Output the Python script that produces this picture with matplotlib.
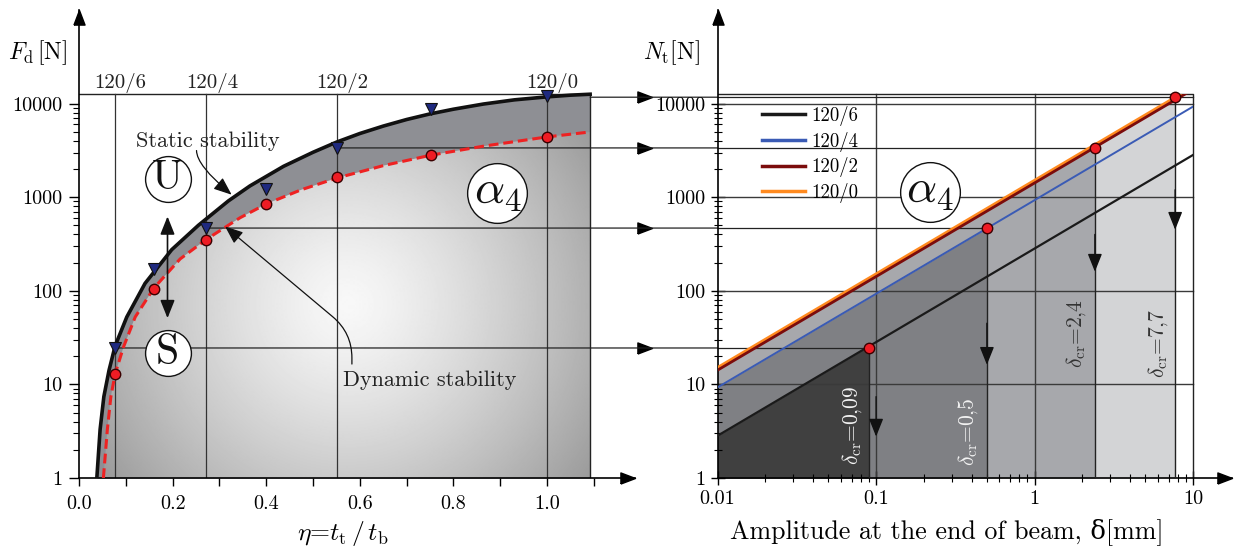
import numpy as np
import matplotlib
matplotlib.use('Agg')
import matplotlib.pyplot as plt
from matplotlib.patches import Rectangle, ConnectionPatch
from matplotlib.ticker import NullFormatter
from matplotlib.transforms import blended_transform_factory

plt.rcParams['font.family'] = ['cmr10', 'DejaVu Serif']
plt.rcParams['mathtext.fontset'] = 'cm'
plt.rcParams['axes.unicode_minus'] = False

# configurations (rod length / tip thickness)
config_labels = ['120/6', '120/4', '120/2', '120/0']
config_eta = [0.077, 0.272, 0.551, 1.0]
config_F = [24.5, 468, 3360, 11700]      # static stability force carried to right panel

# left panel: measured points
point_eta = [0.077, 0.16, 0.272, 0.40, 0.551, 0.752, 1.0]
static_F = [24.4, 172, 468, 1235, 3360, 8850, 11970]
dynamic_F = [12.9, 104, 351, 846, 1628, 2826, 4400]

# left panel: boundary curves
static_curve_eta = [0.038, 0.045, 0.053, 0.064, 0.077, 0.102, 0.141, 0.198, 0.255, 0.319,
                    0.365, 0.437, 0.50, 0.551, 0.60, 0.65, 0.70, 0.75, 0.80, 0.864,
                    0.93, 1.0, 1.05, 1.092]
static_curve_F = [1, 3.3, 7.4, 14.1, 25.7, 52.5, 120, 275, 501, 912,
                  1318, 2138, 3020, 3890, 4790, 5750, 6760, 7760, 8710, 9890,
                  10960, 11800, 12300, 12590]
dynamic_curve_eta = [0.052, 0.0605, 0.068, 0.077, 0.095, 0.12, 0.16, 0.216, 0.273,
                     0.344, 0.401, 0.475, 0.551, 0.65, 0.75, 0.864, 1.0, 1.092]
dynamic_curve_F = [1, 3.3, 7.4, 12.9, 25.1, 52.5, 107, 219, 357,
                   603, 851, 1202, 1603, 2173, 2799, 3508, 4406, 4977]

# right panel: force vs amplitude lines (values at delta = 0.01 and 10 mm)
delta_ends = [0.01, 10]
N_at_ends = [[2.83, 2830], [9.3, 9300], [14.2, 14200], [15.0, 15000]]
line_colors = ['#1a1a1a', '#3a5bb5', '#7b0c0c', '#ff8a1f']
line_widths = [1.6, 1.4, 2.0, 2.6]
delta_cr = [0.09, 0.5, 2.4, 7.7]
delta_cr_text = ['0,09', '0,5', '2,4', '7,7']
region_colors = ['#404040', '#7f8084', '#a7a8ac', '#d3d4d6']

F_TOP = 12800
ETA_END = 1.092
HEAD = [(-1, -0.38), (0, 0), (-1, 0.38), (-1, -0.38)]   # arrow head, tip at origin
HEAD_UP = [(y, x) for x, y in HEAD]

fig = plt.figure(figsize=(12.37, 5.48), dpi=100)
ax1 = fig.add_axes([0.0639, 0.1277, 0.4495, 0.8541])
ax2 = fig.add_axes([0.5801, 0.1277, 0.4159, 0.8541])

for ax in (ax1, ax2):
    ax.set_yscale('log')
    ax.set_ylim(1, 1e5)
    ax.spines[['top', 'right']].set_visible(False)
    ax.spines[['left', 'bottom']].set_linewidth(1.2)
    ax.plot(1, 0, marker=HEAD, ms=21, color='k', transform=ax.transAxes, clip_on=False)
    ax.plot(0, 1, marker=HEAD_UP, ms=21, color='k', transform=ax.transAxes, clip_on=False)

# ---------------- left panel ----------------
ax1.set_xlim(0, 1.188)
ax1.set_autoscale_on(False)

ax1.fill_between(static_curve_eta, 1, static_curve_F, color='#8e8f94', lw=0, zorder=1)
poly = ax1.fill_between(dynamic_curve_eta, 1, dynamic_curve_F, facecolor='none', lw=0)

W, H = 556, 468
uu, vv = np.meshgrid(np.arange(W) + 0.5, np.arange(H) + 0.5)
dist = np.hypot(uu - 268, vv - 173)
shade = np.clip(248 - 88 * (dist / 285) ** 1.3, 110, 250) / 255
im = ax1.imshow(shade, extent=[0, 1, 0, 1], transform=ax1.transAxes, origin='lower',
                cmap='gray', vmin=0, vmax=1, aspect='auto', interpolation='bilinear', zorder=1.2)
im.set_clip_path(poly.get_paths()[0], ax1.transData)

# frame and configuration lines
ax1.plot([0, ETA_END, ETA_END], [F_TOP, F_TOP, 1], color='#222222', lw=1, zorder=2)
for e, lab in zip(config_eta, config_labels):
    ax1.plot([e, e], [1, F_TOP], color='#333333', lw=0.9, zorder=2)
    ax1.annotate(lab, (e, 14800), xytext=(4, 0), textcoords='offset points',
                 ha='center', va='baseline', fontsize=15, color='#222222')

ax1.plot(static_curve_eta, static_curve_F, color='#111111', lw=2.6, zorder=3)
ax1.plot(dynamic_curve_eta, dynamic_curve_F, color='#ee2222', lw=2.2,
         dashes=(3.2, 1.6), zorder=3)
ax1.plot(point_eta, static_F, 'v', ms=8.5, mfc='#1f2a80', mec='#111111', mew=0.8, zorder=5)
ax1.plot(point_eta, dynamic_F, 'o', ms=7.5, mfc='#ee1c24', mec='#3a0000', mew=1, zorder=5)

# connecting lines to the right panel
starts = [config_eta[0], config_eta[1], config_eta[2], ETA_END]
ends = [delta_cr[0], delta_cr[1], delta_cr[2], 10]
for s, e, F in zip(starts, ends, config_F):
    con = ConnectionPatch(xyA=(s, F), coordsA=ax1.transData, xyB=(e, F), coordsB=ax2.transData,
                          color='#222222', lw=0.9, zorder=2.5)
    ax1.add_artist(con)
    con.set_clip_on(False)
    ax2.plot([0.01, e], [F, F], color='#222222', lw=0.9, zorder=2.5)
trans = blended_transform_factory(fig.transFigure, ax1.transData)
ax1.plot([652 / 1237] * 4, config_F, ls='none', marker=HEAD, ms=21, color='k',
         transform=trans, clip_on=False)

# circles with labels
for (x, y), txt, size, fs in [((0.189, 1578), 'U', 33, 30), ((0.189, 21.6), 'S', 33, 30),
                              ((0.894, 1109), r'$\alpha_4$', 43, 34)]:
    ax1.plot(x, y, 'o', ms=size, mfc='white', mec='#111111', mew=1, zorder=6)
    ax1.text(x, y, txt, ha='center', va='center', fontsize=fs, zorder=7, color='#111111')

ax1.annotate('', xy=(0.189, 51), xytext=(0.189, 623),
             arrowprops=dict(arrowstyle='<|-|>,head_length=0.55,head_width=0.22',
                             mutation_scale=20, color='#111111', lw=1.2, shrinkA=0, shrinkB=0),
             zorder=6)
ax1.text(0.122, 3925, 'Static stability', fontsize=16, ha='left', va='center', color='#222222')
ax1.annotate('', xy=(0.326, 1063), xytext=(0.251, 3150),
             arrowprops=dict(arrowstyle='-|>,head_length=0.55,head_width=0.22', mutation_scale=20,
                             color='#111111', lw=0.9, shrinkA=0, shrinkB=0,
                             connectionstyle='angle3,angleA=-90,angleB=-40'), zorder=6)
ax1.text(0.565, 11.2, 'Dynamic stability', fontsize=16, ha='left', va='center', color='#222222')
ax1.annotate('', xy=(0.312, 487), xytext=(0.583, 16.5),
             arrowprops=dict(arrowstyle='-|>,head_length=0.55,head_width=0.22', mutation_scale=20,
                             color='#111111', lw=0.9, shrinkA=0, shrinkB=0,
                             connectionstyle='angle,angleA=90,angleB=140,rad=25'), zorder=6)

ax1.set_xticks([0, 0.2, 0.4, 0.6, 0.8, 1.0], labels=['0.0', '0.2', '0.4', '0.6', '0.8', '1.0'])
ax1.set_xticks([0.1, 0.3, 0.5, 0.7, 0.9, 1.1], minor=True)
ax1.set_yticks([1, 10, 100, 1000, 10000], labels=['1', '10', '100', '1000', '10000'])
ax1.set_yticks([k * 10 ** p for p in range(4) for k in range(2, 10)], minor=True)
ax1.yaxis.set_minor_formatter(NullFormatter())
ax1.tick_params(axis='x', which='both', direction='out', length=6, width=1, labelsize=14.5, pad=6)
ax1.tick_params(axis='y', which='major', direction='out', length=7, width=1, labelsize=14.5, pad=5)
ax1.tick_params(axis='y', which='minor', direction='out', length=4, width=0.8)

# ---------------- right panel ----------------
ax2.set_xscale('log')
ax2.set_xlim(0.01, 17.6)
ax2.set_autoscale_on(False)

log_d = np.log10(delta_ends)
order = [3, 2, 1, 0]
for i in order:
    x = np.array([0.01, delta_cr[i]])
    y = 10 ** np.interp(np.log10(x), log_d, np.log10(N_at_ends[i]))
    ax2.fill_between(x, 1, y, color=region_colors[i], lw=0, zorder=1)

for N in [10, 100, 1000, 10000]:
    ax2.plot([0.01, 10], [N, N], color='#3a3a3a', lw=1, zorder=2)
for d in [0.1, 1]:
    ax2.plot([d, d], [1, F_TOP], color='#3a3a3a', lw=1, zorder=2)
ax2.plot([0.01, 10, 10], [F_TOP, F_TOP, 1], color='#222222', lw=1, zorder=2)

clip = Rectangle((0.01, 1), 10 - 0.01, F_TOP - 1, transform=ax2.transData, fill=False)
for i in order:
    ln, = ax2.plot(delta_ends, N_at_ends[i], color=line_colors[i], lw=line_widths[i],
                   label=config_labels[i], zorder=3)
    ln.set_clip_path(clip)

for i in range(4):
    ax2.plot([delta_cr[i], delta_cr[i]], [1, config_F[i]], color='#222222', lw=1, zorder=2.6)
ax2.plot(delta_cr, config_F, 'o', ms=7.5, mfc='#ee1c24', mec='#3a0000', mew=1, zorder=5)

for x, y0, y1 in [(0.1, 7.4, 2.77), (0.5, 45, 16.2), (2.4, 400, 160), (7.7, 1200, 449)]:
    ax2.annotate('', xy=(x, y1), xytext=(x, y0),
                 arrowprops=dict(arrowstyle='-|>,head_length=0.55,head_width=0.22', mutation_scale=20,
                                 color='#111111', lw=1, shrinkA=0, shrinkB=0), zorder=4)

for (x, y), txt, col in zip([(0.071, 3.7), (0.38, 3.1), (1.84, 35), (6.03, 27.8)], delta_cr_text,
                            ['#f2f2f2', '#f2f2f2', '#333333', '#333333']):
    ax2.text(x, y, r'$\delta_{\mathrm{cr}}$=' + txt, rotation=90, ha='center', va='center',
             fontsize=15.5, color=col, zorder=4)

ax2.plot(0.218, 1123, 'o', ms=43, mfc='white', mec='#111111', mew=1, zorder=6)
ax2.text(0.218, 1123, r'$\alpha_4$', ha='center', va='center', fontsize=34, zorder=7, color='#111111')

handles, labels = ax2.get_legend_handles_labels()
leg = ax2.legend(handles[::-1], labels[::-1], loc='upper left', bbox_to_anchor=(0.616, 0.8066),
                 bbox_transform=fig.transFigure, frameon=False, fontsize=13.5, handlelength=2.3,
                 handletextpad=0.35, labelspacing=0.3, borderpad=0, borderaxespad=0)
for h in leg.legend_handles:
    h.set_linewidth(2.5)

ax2.set_xticks([0.01, 0.1, 1, 10], labels=['0.01', '0.1', '1', '10'])
ax2.set_xticks([k * 10 ** p for p in range(-2, 1) for k in range(2, 10)], minor=True)
ax2.xaxis.set_minor_formatter(NullFormatter())
ax2.set_yticks([1, 10, 100, 1000, 10000], labels=['1', '10', '100', '1000', '10000'])
ax2.set_yticks([k * 10 ** p for p in range(4) for k in range(2, 10)], minor=True)
ax2.yaxis.set_minor_formatter(NullFormatter())
ax2.tick_params(which='major', direction='inout', length=10, width=1, labelsize=14.5, pad=4)
ax2.tick_params(which='minor', direction='inout', length=6, width=0.8)

# axis labels
fig.text(38 / 1237, 1 - 53 / 548, r'$F_\mathrm{d}\,$[N]', fontsize=17, ha='center', va='center')
fig.text(671 / 1237, 1 - 53 / 548, r'$N_\mathrm{t}$[N]', fontsize=17, ha='center', va='center')
fig.text(343 / 1237, 1 - 533 / 548, r'$\eta$=$t_\mathrm{t}\,/\,t_\mathrm{b}$', fontsize=18.5,
         ha='center', va='center')
fig.text(947 / 1237, 1 - 532 / 548, 'Amplitude at the end of beam, δ[mm]', fontsize=18.7,
         ha='center', va='center')

fig.savefig('out.png', dpi=100)
